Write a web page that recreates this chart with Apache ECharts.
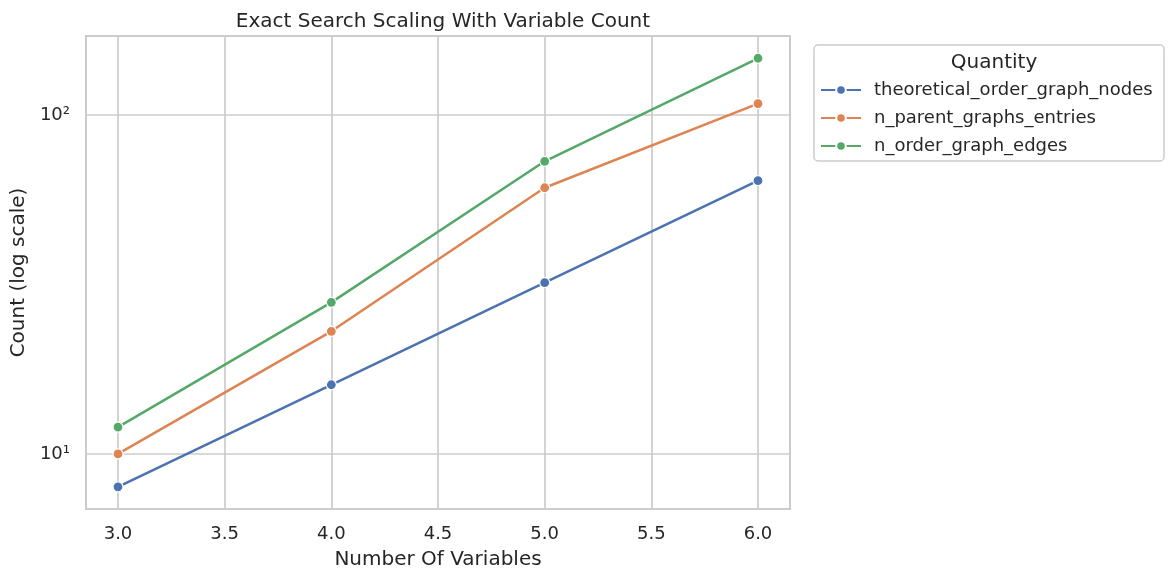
<!DOCTYPE html>
<html lang="en">
<head>
    <meta charset="UTF-8">
    <title>Exact Search Scaling With Variable Count</title>
    <script src="https://cdn.jsdelivr.net/npm/echarts@6/dist/echarts.min.js"></script>
    <style>
        html, body { margin: 0; padding: 0; background: #fff; }
    </style>
</head>
<body>
    <div id="chart" style="width: 1176px; height: 580px;"></div>
    <script>
        const variableCounts = [3, 4, 5, 6]
        const theoreticalOrderGraphNodes = [8, 16, 32, 64]
        const nParentGraphsEntries = [10, 23, 61, 108]
        const nOrderGraphEdges = [12, 28, 73, 147]

        const seriesNames = ['theoretical_order_graph_nodes', 'n_parent_graphs_entries', 'n_order_graph_edges']
        const seriesColors = ['#4c72b0', '#dd8452', '#55a868']
        const seriesValues = [theoreticalOrderGraphNodes, nParentGraphsEntries, nOrderGraphEdges]

        const textColor = '#262626'
        const gridColor = '#cccccc'
        const fontFamily = 'DejaVu Sans'

        const chart = echarts.init(document.getElementById('chart'))

        const isPowerOfTen = (v) => {
            const l = Math.log10(v)
            return Math.abs(l - Math.round(l)) < 1e-6
        }
        const supDigits = { '0': '⁰', '1': '¹', '2': '²', '3': '³', '4': '⁴' }

        const option = {
            animation: false,
            textStyle: { fontFamily: fontFamily, color: textColor },
            title: [{
                text: 'Exact Search Scaling With Variable Count',
                left: 438,
                top: 7,
                textAlign: 'center',
                textStyle: { fontSize: 20, fontWeight: 'normal', color: textColor, fontFamily: fontFamily }
            }, {
                text: 'Quantity',
                left: 989,
                top: 48,
                textAlign: 'center',
                textStyle: { fontSize: 20, fontWeight: 'normal', color: textColor, fontFamily: fontFamily }
            }],
            graphic: [{
                type: 'rect',
                z: -1,
                shape: { x: 814, y: 45, width: 350, height: 116, r: 4 },
                style: { fill: '#ffffff', stroke: gridColor, lineWidth: 1.5 }
            }],
            legend: {
                orient: 'vertical',
                left: 820,
                top: 81,
                padding: 0,
                itemWidth: 40,
                itemHeight: 12,
                itemGap: 10,
                textStyle: { fontSize: 18, lineHeight: 18, color: textColor, fontFamily: fontFamily, padding: [0, 0, 0, 8] },
                data: seriesNames
            },
            grid: {
                left: 86,
                right: 386,
                top: 36,
                bottom: 71,
                show: true,
                borderColor: gridColor,
                borderWidth: 2,
                backgroundColor: '#ffffff'
            },
            xAxis: {
                type: 'value',
                min: 2.85,
                max: 6.15,
                name: 'Number Of Variables',
                nameLocation: 'middle',
                nameGap: 41,
                nameTextStyle: { fontSize: 20, color: textColor },
                axisLine: { show: false },
                axisTick: { show: false },
                axisLabel: {
                    fontSize: 18,
                    color: textColor,
                    margin: 16,
                    formatter: (v) => {
                        const r = Math.round(v * 2) / 2
                        return Math.abs(v - r) < 1e-6 ? r.toFixed(1) : ''
                    }
                },
                splitLine: { show: true, lineStyle: { color: gridColor, width: 1.7 } }
            },
            yAxis: {
                type: 'log',
                logBase: 10,
                min: 6.88,
                max: 171,
                name: 'Count (log scale)',
                nameLocation: 'middle',
                nameGap: 53,
                nameTextStyle: { fontSize: 20, color: textColor },
                axisLine: { show: false },
                axisTick: { show: false },
                minorTick: { show: false },
                axisLabel: {
                    fontSize: 18,
                    color: textColor,
                    margin: 16,
                    formatter: (v) => {
                        if (!isPowerOfTen(v)) return ''
                        const e = String(Math.round(Math.log10(v)))
                        return '10' + e.split('').map(d => supDigits[d] || d).join('')
                    }
                },
                splitLine: { show: true, lineStyle: { color: gridColor, width: 1.7 } }
            },
            series: seriesNames.map((name, i) => ({
                name: name,
                type: 'line',
                data: variableCounts.map((x, j) => [x, seriesValues[i][j]]),
                symbol: 'circle',
                symbolSize: 10,
                lineStyle: { color: seriesColors[i], width: 2.5 },
                itemStyle: { color: seriesColors[i], borderColor: '#ffffff', borderWidth: 1.2 },
                emphasis: { disabled: true }
            }))
        }

        chart.setOption(option)
    </script>
</body>
</html>
